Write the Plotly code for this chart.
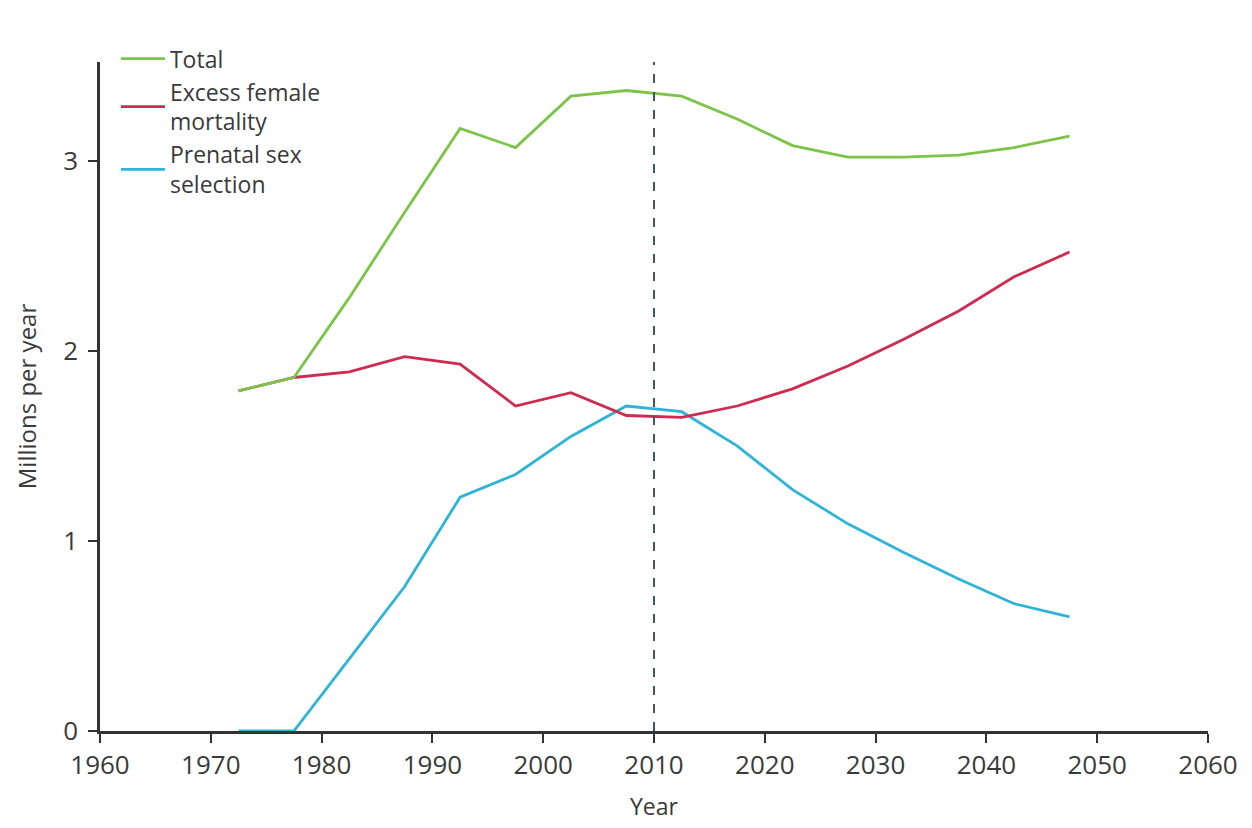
import plotly.graph_objects as go

years = [1972.5, 1977.5, 1982.5, 1987.5, 1992.5, 1997.5, 2002.5, 2007.5,
         2012.5, 2017.5, 2022.5, 2027.5, 2032.5, 2037.5, 2042.5, 2047.5]

total = [1.79, 1.86, 2.28, 2.73, 3.17, 3.07, 3.34, 3.37,
         3.34, 3.22, 3.08, 3.02, 3.02, 3.03, 3.07, 3.13]
excess_mortality = [1.79, 1.86, 1.89, 1.97, 1.93, 1.71, 1.78, 1.66,
                    1.65, 1.71, 1.80, 1.92, 2.06, 2.21, 2.39, 2.52]
prenatal_selection = [0.0, 0.0, 0.38, 0.76, 1.23, 1.35, 1.55, 1.71,
                      1.68, 1.50, 1.27, 1.09, 0.94, 0.80, 0.67, 0.60]

x_ticks = [1960, 1970, 1980, 1990, 2000, 2010, 2020, 2030, 2040, 2050, 2060]
y_ticks = [0, 1, 2, 3]
marker_year = 2010

text_col = "#3a3a3a"
font_fam = "Open Sans, Liberation Sans, sans-serif"

fig = go.Figure()

# drawn back to front, legend shown reversed so Total is on top
fig.add_trace(go.Scatter(x=years, y=prenatal_selection, mode="lines",
                         name="Prenatal sex<br>selection",
                         line=dict(color="#2db4d8", width=2.8)))
fig.add_trace(go.Scatter(x=years, y=excess_mortality, mode="lines",
                         name="Excess female<br>mortality",
                         line=dict(color="#cf2a4f", width=2.8)))
fig.add_trace(go.Scatter(x=years, y=total, mode="lines",
                         name="Total",
                         line=dict(color="#7cc447", width=2.8)))

fig.add_shape(type="line", x0=marker_year, x1=marker_year, y0=0, y1=3.52,
              xref="x", yref="y",
              line=dict(color="#3d5570", width=2, dash="dash"))

# page body adds an 8px margin, so the figure is a bit smaller and shifted
fig.update_layout(
    width=1244, height=820,
    margin=dict(l=92, r=44, t=54, b=97),
    plot_bgcolor="white", paper_bgcolor="white",
    font=dict(family=font_fam, color=text_col, size=22),
    showlegend=True,
    legend=dict(
        x=0.0144, y=1.037, xanchor="left", yanchor="top",
        traceorder="reversed",
        font=dict(size=23, color=text_col),
        bgcolor="rgba(0,0,0,0)",
        tracegroupgap=8,
        itemwidth=44,
    ),
    xaxis=dict(
        range=[1960, 2060],
        tickvals=x_ticks,
        showgrid=False, zeroline=False,
        showline=True, linecolor="#333333", linewidth=2.5,
        ticks="outside", ticklen=9, tickwidth=2, tickcolor="#333333",
        tickfont=dict(size=26, color=text_col),
        automargin=False,
        title=dict(text="Year", font=dict(size=23, color=text_col), standoff=18),
    ),
    yaxis=dict(
        range=[0, 3.52],
        tickvals=y_ticks,
        showgrid=False, zeroline=False,
        showline=True, linecolor="#333333", linewidth=2.5,
        ticks="outside", ticklen=9, tickwidth=2, tickcolor="#333333",
        tickfont=dict(size=26, color=text_col),
        ticklabelstandoff=5,
        automargin=False,
        title=dict(text="Millions per year", font=dict(size=24, color=text_col), standoff=20),
    ),
)

fig.write_html("out.html")
